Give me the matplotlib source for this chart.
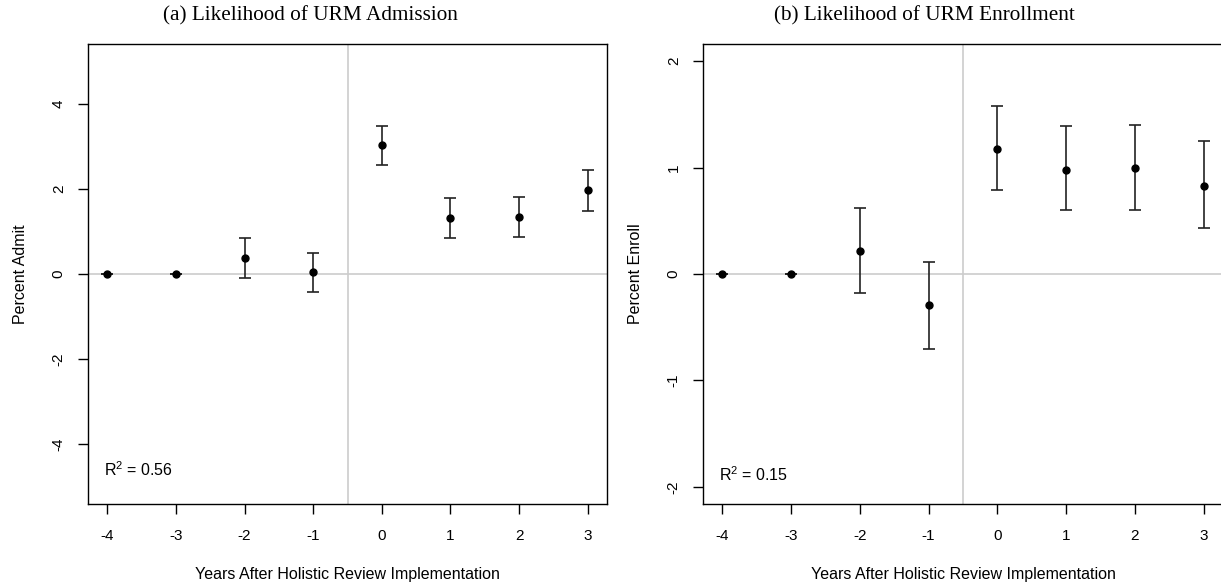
import matplotlib.pyplot as plt
plt.rcParams['font.family'] = ['Liberation Sans', 'DejaVu Sans']

years = [-4, -3, -2, -1, 0, 1, 2, 3]

admit = [0, 0, 0.37, 0.04, 3.03, 1.32, 1.35, 1.97]
admit_lo = [0, 0, -0.10, -0.42, 2.56, 0.84, 0.87, 1.47]
admit_hi = [0, 0, 0.84, 0.49, 3.48, 1.79, 1.81, 2.45]

enroll = [0, 0, 0.22, -0.29, 1.17, 0.98, 1.00, 0.83]
enroll_lo = [0, 0, -0.175, -0.70, 0.79, 0.60, 0.60, 0.43]
enroll_hi = [0, 0, 0.62, 0.11, 1.575, 1.39, 1.40, 1.25]

fig = plt.figure(figsize=(12.21, 5.88), dpi=100)

def panel(rect, y, lo, hi, ylim, yticks, ylabel, title, title_x, r2, r2y):
    ax = fig.add_axes(rect)
    ax.axhline(0, color='#cccccc', lw=1.2, zorder=1)
    ax.axvline(-0.5, color='#cccccc', lw=1.2, zorder=1)
    err = [[v - l for v, l in zip(y, lo)], [h - v for v, h in zip(y, hi)]]
    ax.errorbar(years, y, yerr=err, fmt='o', color='black', ecolor='#222222',
                ms=5, elinewidth=1.2, capsize=4.5, capthick=1.2, zorder=3)
    span = ylim[1] - ylim[0]
    ax.set_ylim(ylim[0] - 0.04 * span, ylim[1] + 0.04 * span)
    ax.set_xlim(-4.28, 3.28)
    ax.set_xticks(years)
    ax.set_xticklabels([str(v) for v in years])
    ax.set_yticks(yticks)
    ax.set_yticklabels([str(v) for v in yticks], rotation=90, va='center')
    ax.tick_params(direction='out', length=7, width=1, labelsize=11, pad=11)
    ax.tick_params(axis='y', pad=9)
    for s in ax.spines.values():
        s.set_linewidth(1)
    ax.set_xlabel('Years After Holistic Review Implementation', fontsize=11.5, labelpad=17)
    ax.set_ylabel(ylabel, fontsize=11.5, labelpad=17)
    # subfigure caption, centred on its half of the page
    fig.text(title_x, 1 - 16 / 588, title, family='Liberation Serif',
             fontsize=15.3, ha='center', va='center')
    ax.text(-4.05, r2y, '$\\mathregular{R^2}$ = ' + r2, fontsize=11.5, va='center')
    return ax

panel([88 / 1221, 1 - 504 / 588, (607 - 88) / 1221, 460 / 588],
      admit, admit_lo, admit_hi, (-5, 5), [-4, -2, 0, 2, 4],
      'Percent Admit', '(a) Likelihood of URM Admission', 310 / 1221, '0.56', -4.6)
panel([703 / 1221, 1 - 504 / 588, (1223 - 703) / 1221, 460 / 588],
      enroll, enroll_lo, enroll_hi, (-2, 2), [-2, -1, 0, 1, 2],
      'Percent Enroll', '(b) Likelihood of URM Enrollment', 924 / 1221, '0.15', -1.88)

fig.savefig('out.png', dpi=100)
